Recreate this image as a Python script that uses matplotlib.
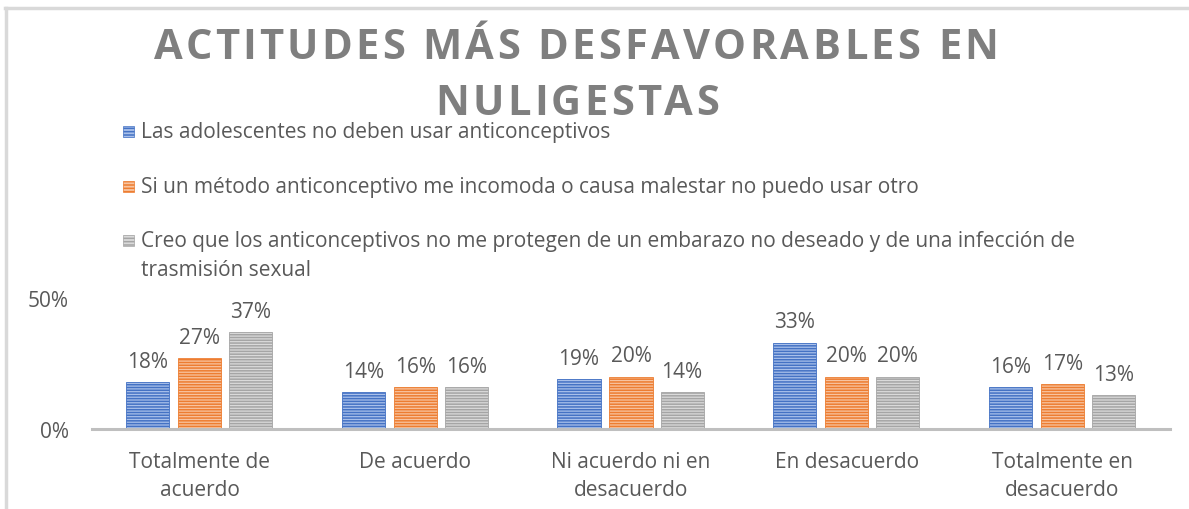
import matplotlib

matplotlib.use("Agg")
import matplotlib.pyplot as plt
from matplotlib.patches import Rectangle
from matplotlib.lines import Line2D
import numpy as np

categories = ["Totalmente de\nacuerdo", "De acuerdo", "Ni acuerdo ni en\ndesacuerdo",
              "En desacuerdo", "Totalmente en\ndesacuerdo"]
series_names = [
    ["Las adolescentes no deben usar anticonceptivos"],
    ["Si un método anticonceptivo me incomoda o causa malestar no puedo usar otro"],
    ["Creo que los anticonceptivos no me protegen de un embarazo no deseado y de una infección de",
     "trasmisión sexual"],
]
adolescentes = [0.18, 0.14, 0.19, 0.33, 0.16]
incomoda = [0.27, 0.16, 0.20, 0.20, 0.17]
no_protegen = [0.37, 0.16, 0.14, 0.20, 0.13]
series_values = [adolescentes, incomoda, no_protegen]
colors = ["#4472C4", "#ED7D31", "#A5A5A5"]
light = ["#A9C0EA", "#F8C4A0", "#DADADA"]
title_lines = ["ACTITUDES MÁS DESFAVORABLES EN", "NULIGESTAS"]

W, H = 1189, 510
text_color = "#595959"
plt.rcParams["font.family"] = ["Open Sans", "DejaVu Sans"]
plt.rcParams["hatch.linewidth"] = 1.1

fig = plt.figure(figsize=(W / 100, H / 100), dpi=100)
renderer = fig.canvas.get_renderer()


def px(x, y):
    return x / W, 1 - y / H


def advance(ch, **kw):
    # width of a glyph incl. side bearings, measured between two x's
    a = fig.text(0, 0, "x" + ch + "x", **kw)
    b = fig.text(0, 0, "xx", **kw)
    w = a.get_window_extent(renderer).width - b.get_window_extent(renderer).width
    a.remove()
    b.remove()
    return w


def spaced_text(line, xc, baseline, gap, **kw):
    widths = [advance(ch, **kw) for ch in line]
    total = sum(widths) + gap * (len(line) - 1)
    x = xc - total / 2
    for ch, w in zip(line, widths):
        fig.text(*px(x, baseline), ch, ha="left", va="baseline", **kw)
        x += w + gap


# chart frame (top and left edges visible)
fig.add_artist(Line2D([5 / W, 1], [1 - 9 / H, 1 - 9 / H], color="#d9d9d9", lw=2.5))
fig.add_artist(Line2D([6 / W, 6 / W], [0, 1 - 9 / H], color="#d9d9d9", lw=2.5))

title_kw = dict(fontsize=30, fontweight="bold", color="#7f7f7f")
natural = sum(advance(ch, **title_kw) for ch in title_lines[0])
gap = (845 - natural) / (len(title_lines[0]) - 1)
spaced_text(title_lines[0], 576, 59, gap, **title_kw)
spaced_text(title_lines[1], 577, 115, gap, **title_kw)

# legend
leg_base = [138, 193, 247]
for lines, c, lc, y in zip(series_names, colors, light, leg_base):
    fig.add_artist(Rectangle(px(123, y), 11 / W, 11 / H, transform=fig.transFigure,
                             facecolor=lc, edgecolor=c, hatch="-----", lw=0.5))
    for i, line in enumerate(lines):
        fig.text(*px(141, y + 29 * i), line, ha="left", va="baseline", fontsize=15,
                 color=text_color)

ax = fig.add_axes([92 / W, 80 / H, 1078 / W, 131 / H])
x = np.arange(len(categories))
width = 0.2
offsets = [-0.241, 0.0, 0.237]
for vals, c, lc, off in zip(series_values, colors, light, offsets):
    bars = ax.bar(x + off, vals, width, facecolor=lc, edgecolor=c, hatch="------", lw=0.6)
    for b, v in zip(bars, vals):
        ax.annotate(f"{v:.0%}", (b.get_x() + b.get_width() / 2, v), xytext=(0, 11),
                    textcoords="offset points", ha="center", va="baseline", fontsize=15,
                    color=text_color)

ax.set_xlim(-0.5, len(categories) - 0.5)
ax.set_ylim(0, 0.5)
ax.set_yticks([0, 0.5])
ax.set_yticklabels(["0%", "50%"])
ax.set_xticks(x)
ax.set_xticklabels(categories, linespacing=1.45)
ax.tick_params(axis="y", length=0, pad=16.5, labelsize=15, labelcolor=text_color)
ax.tick_params(axis="x", length=0, pad=16, labelsize=15, labelcolor=text_color)
for s in ["top", "right", "left"]:
    ax.spines[s].set_visible(False)
ax.spines["bottom"].set_color("#bfbfbf")
ax.spines["bottom"].set_linewidth(2.2)
ax.patch.set_alpha(0)

fig.savefig("out.png", dpi=100)
